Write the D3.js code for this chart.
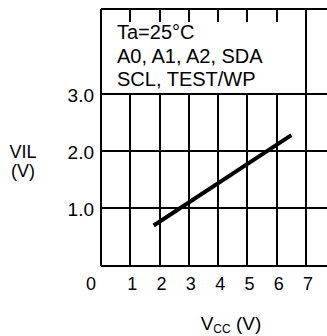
<!DOCTYPE html>
<html>
<head>
<meta charset="utf-8">
<script src="https://cdn.jsdelivr.net/npm/d3@7"></script>
<style>
  body { margin: 0; background: #fff; }
  svg { display: block; font-family: "Liberation Sans", Arial, sans-serif; }
</style>
</head>
<body>
<div id="chart"></div>
<script>
// data
var xTicks = [0, 1, 2, 3, 4, 5, 6, 7];
var yTicks = [1.0, 2.0, 3.0];
var vcc = [1.8, 6.5];
var vil = [0.7, 2.28];
var notes = ["Ta=25\u00B0C", "A0, A1, A2, SDA", "SCL, TEST/WP"];

var width = 327, height = 336;
var yTop = 4.48, xEnd = 7.8;

var x = d3.scaleLinear().domain([0, 7]).range([101, 306]);
var y = d3.scaleLinear().domain([0, 3]).range([265.5, 94]);

var svg = d3.select("#chart").append("svg")
    .attr("width", width)
    .attr("height", height);

var grid = svg.append("g")
    .attr("stroke", "#000")
    .attr("stroke-width", 2)
    .attr("shape-rendering", "crispEdges");

// horizontal lines run off the right edge
grid.selectAll(".hline")
    .data([0].concat(yTicks, [yTop]))
    .enter().append("line")
    .attr("x1", x(0))
    .attr("x2", x(xEnd))
    .attr("y1", function (d) { return y(d); })
    .attr("y2", function (d) { return y(d); });

// vertical lines, inner ones stop under the note box
grid.selectAll(".vline")
    .data(xTicks)
    .enter().append("line")
    .attr("x1", function (d) { return x(d); })
    .attr("x2", function (d) { return x(d); })
    .attr("y1", y(0))
    .attr("y2", function (d) { return (d === 0 || d === 7) ? y(yTop) : y(3); });

// short ticks hanging from the top
grid.selectAll(".tick")
    .data(xTicks.filter(function (d) { return d > 0 && d < 7; }))
    .enter().append("line")
    .attr("x1", function (d) { return x(d); })
    .attr("x2", function (d) { return x(d); })
    .attr("y1", y(yTop))
    .attr("y2", y(yTop) + 13);

// data line
var line = d3.line()
    .x(function (d) { return x(d[0]); })
    .y(function (d) { return y(d[1]); });

svg.append("path")
    .datum(d3.zip(vcc, vil))
    .attr("d", line)
    .attr("fill", "none")
    .attr("stroke", "#000")
    .attr("stroke-width", 4);

// y tick labels
svg.selectAll(".ylab")
    .data(yTicks)
    .enter().append("text")
    .attr("x", x(0) - 7)
    .attr("y", function (d) { return y(d) + 8; })
    .attr("text-anchor", "end")
    .attr("font-size", 19)
    .text(function (d) { return d.toFixed(1); });

// x tick labels
svg.selectAll(".xlab")
    .data(xTicks)
    .enter().append("text")
    .attr("x", function (d) { return d === 0 ? x(d) - 10 : x(d) + 2; })
    .attr("y", 290)
    .attr("text-anchor", "middle")
    .attr("font-size", 18)
    .text(function (d) { return d; });

// note box text
svg.append("text")
    .attr("font-size", 20)
    .selectAll("tspan")
    .data(notes)
    .enter().append("tspan")
    .attr("x", 117)
    .attr("y", function (d, i) { return 39 + i * 23.5; })
    .text(function (d) { return d; });

// y title, two lines
svg.selectAll(".ytitle")
    .data(["VIL", "(V)"])
    .enter().append("text")
    .attr("x", 23)
    .attr("y", function (d, i) { return 158 + i * 19; })
    .attr("text-anchor", "middle")
    .attr("font-size", 18)
    .text(function (d) { return d; });

// x title
var xt = svg.append("text")
    .attr("x", 231)
    .attr("y", 330)
    .attr("text-anchor", "middle")
    .attr("font-size", 19);
xt.append("tspan").text("V");
xt.append("tspan").attr("font-size", 12).attr("dy", 3).text("CC");
xt.append("tspan").attr("dy", -3).text(" (V)");
</script>
</body>
</html>
